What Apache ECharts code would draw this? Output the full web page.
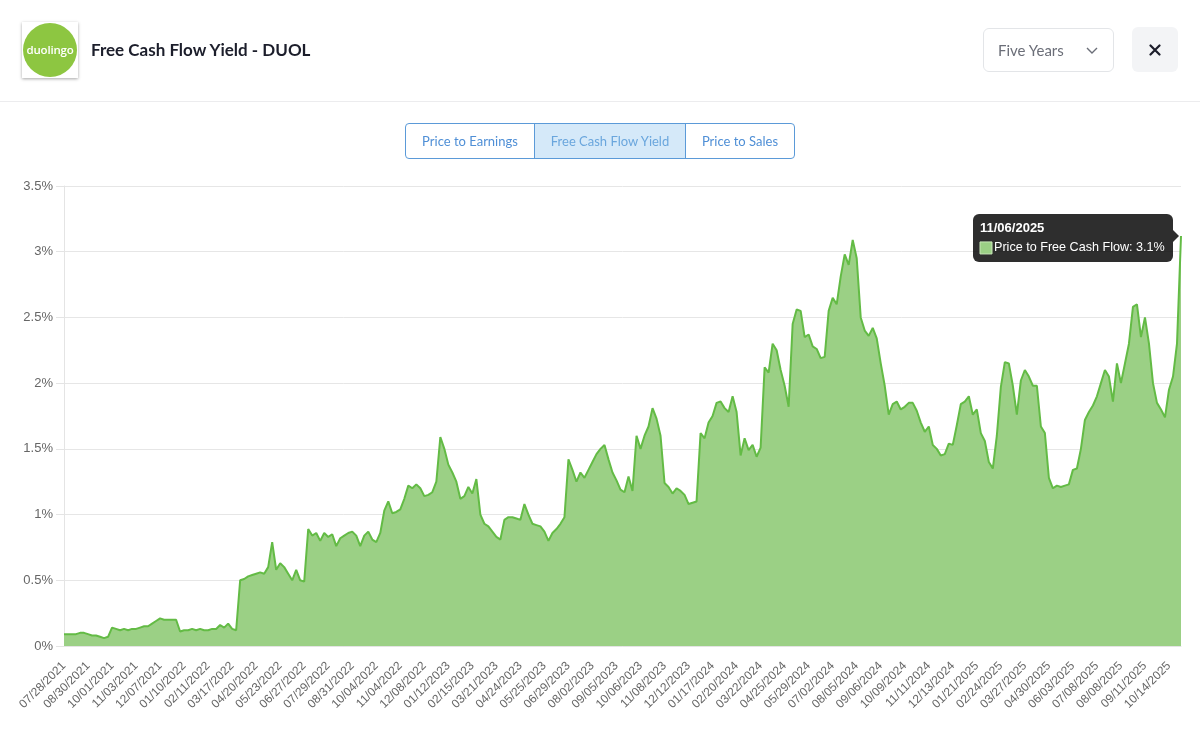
<!DOCTYPE html>
<html>
<head>
<meta charset="utf-8">
<script src="https://cdn.jsdelivr.net/npm/echarts@6/dist/echarts.min.js"></script>
<style>
  html, body { margin: 0; padding: 0; background: #fff; width: 1200px; height: 741px; overflow: hidden; font-family: Lato, "Noto Sans", sans-serif; }
  #logo { position: absolute; left: 22px; top: 22px; width: 56px; height: 56px; background: #fff; box-shadow: 0 1px 3px rgba(0,0,0,0.35); }
  #logo .c { position: absolute; left: 1px; top: 1px; width: 54px; height: 54px; border-radius: 50%; background: #8dc641; color: #fff; font-family: "Open Sans", Lato, sans-serif; font-weight: 600; font-size: 11.5px; line-height: 54px; text-align: center; letter-spacing: -0.2px; }
  #title { position: absolute; left: 91px; top: 39px; font-size: 17px; font-weight: 700; color: #1c1e2b; }
  #dd { position: absolute; left: 983px; top: 28px; width: 131px; height: 44px; border: 1px solid #e3e5e8; border-radius: 6px; box-sizing: border-box; }
  #dd span { position: absolute; left: 14px; top: 12px; font-size: 15px; color: #6b6e78; }
  #dd svg { position: absolute; left: 102px; top: 18px; }
  #close { position: absolute; left: 1132px; top: 27px; width: 46px; height: 45px; border-radius: 6px; background: #f3f4f6; }
  #close svg { position: absolute; left: 17px; top: 17px; }
  #hr { position: absolute; left: 0; top: 101px; width: 1200px; height: 1px; background: #ececee; }
  #tabs { position: absolute; left: 405px; top: 123px; width: 390px; height: 36px; border: 1px solid #5b9ad8; border-radius: 4px; box-sizing: border-box; display: flex; overflow: hidden; }
  #tabs div { height: 100%; box-sizing: border-box; font-size: 13px; color: #4f8fd6; text-align: center; line-height: 34px; }
  #tabs .t1 { width: 129px; border-right: 1px solid #5b9ad8; }
  #tabs .t2 { width: 151px; border-right: 1px solid #5b9ad8; background: #d5e9f9; color: #6aa6dd; }
  #tabs .t3 { flex: 1; }
  #chart { position: absolute; left: 0; top: 0; width: 1200px; height: 741px; }
</style>
</head>
<body>
<div id="chart"></div>
<div id="logo"><div class="c">duolingo</div></div>
<div id="title">Free Cash Flow Yield - DUOL</div>
<div id="dd"><span>Five Years</span><svg width="12" height="8" viewBox="0 0 12 8"><path d="M1 1 L6 6 L11 1" fill="none" stroke="#6b6e78" stroke-width="1.4"/></svg></div>
<div id="close"><svg width="12" height="12" viewBox="0 0 12 12"><path d="M1.5 1.5 L10.5 10.5 M10.5 1.5 L1.5 10.5" stroke="#1c1e2b" stroke-width="2.2" stroke-linecap="round"/></svg></div>
<div id="hr"></div>
<div id="tabs"><div class="t1">Price to Earnings</div><div class="t2">Free Cash Flow Yield</div><div class="t3">Price to Sales</div></div>
<script>
// Tick label dates shown on the x axis (one every 6 points)
const tickLabels = [
  "07/28/2021","08/30/2021","10/01/2021","11/03/2021","12/07/2021","01/10/2022","02/11/2022","03/17/2022",
  "04/20/2022","05/23/2022","06/27/2022","07/29/2022","08/31/2022","10/04/2022","11/04/2022","12/08/2022",
  "01/12/2023","02/15/2023","03/21/2023","04/24/2023","05/25/2023","06/29/2023","08/02/2023","09/05/2023",
  "10/06/2023","11/08/2023","12/12/2023","01/17/2024","02/20/2024","03/22/2024","04/25/2024","05/29/2024",
  "07/02/2024","08/05/2024","09/06/2024","10/09/2024","11/11/2024","12/13/2024","01/21/2025","02/24/2025",
  "03/27/2025","04/30/2025","06/03/2025","07/08/2025","08/08/2025","09/11/2025","10/14/2025"
];
const lastDate = "11/06/2025";
const seriesName = "Price to Free Cash Flow";
const yTicks = [0, 0.5, 1, 1.5, 2, 2.5, 3, 3.5];

// Free cash flow yield (%)
const fcfYield = [
  0.09,0.09,0.09,0.09,0.10,0.10, 0.09,0.08,0.08,0.07,0.06,0.07,
  0.14,0.13,0.12,0.13,0.12,0.13, 0.13,0.14,0.15,0.15,0.17,0.19,
  0.21,0.20,0.20,0.20,0.20,0.11, 0.12,0.12,0.13,0.12,0.13,0.12,
  0.12,0.13,0.13,0.16,0.14,0.17, 0.13,0.12,0.50,0.51,0.53,0.54,
  0.55,0.56,0.55,0.60,0.79,0.58, 0.63,0.60,0.55,0.50,0.58,0.50,
  0.49,0.89,0.84,0.86,0.80,0.86, 0.83,0.85,0.76,0.82,0.84,0.86,
  0.87,0.84,0.76,0.84,0.87,0.81, 0.79,0.86,1.03,1.10,1.01,1.02,
  1.04,1.12,1.22,1.20,1.23,1.20, 1.14,1.15,1.17,1.25,1.59,1.50,
  1.38,1.32,1.25,1.12,1.14,1.21, 1.16,1.27,1.00,0.93,0.91,0.87,
  0.83,0.81,0.96,0.98,0.98,0.97, 0.96,1.08,1.00,0.93,0.92,0.91,
  0.87,0.80,0.86,0.89,0.93,0.98, 1.42,1.34,1.25,1.32,1.28,1.34,
  1.40,1.46,1.50,1.53,1.42,1.32, 1.26,1.19,1.17,1.29,1.18,1.60,
  1.50,1.60,1.67,1.81,1.73,1.60, 1.24,1.21,1.16,1.20,1.18,1.15,
  1.08,1.09,1.10,1.62,1.58,1.70, 1.75,1.85,1.86,1.81,1.78,1.90,
  1.78,1.45,1.58,1.49,1.53,1.44, 1.51,2.12,2.08,2.30,2.25,2.10,
  1.98,1.82,2.45,2.56,2.55,2.35, 2.37,2.28,2.26,2.19,2.20,2.55,
  2.65,2.60,2.81,2.98,2.90,3.09, 2.95,2.50,2.40,2.36,2.42,2.34,
  2.15,1.98,1.76,1.84,1.86,1.80, 1.82,1.85,1.85,1.79,1.70,1.63,
  1.67,1.53,1.50,1.45,1.46,1.54, 1.53,1.68,1.84,1.86,1.90,1.76,
  1.80,1.62,1.56,1.40,1.35,1.60, 1.97,2.16,2.15,1.98,1.76,2.02,
  2.10,2.05,1.98,1.98,1.67,1.62, 1.28,1.20,1.22,1.21,1.22,1.23,
  1.34,1.35,1.50,1.72,1.78,1.83, 1.90,2.00,2.10,2.05,1.86,2.15,
  2.00,2.15,2.30,2.58,2.60,2.35, 2.50,2.30,2.00,1.85,1.80,1.74,
  1.95,2.05,2.30,3.12
];

const STEP = 6;
const n = fcfYield.length;
const categories = fcfYield.map((v, i) => {
  if (i === n - 1) return lastDate;
  if (i % STEP === 0 && tickLabels[i / STEP]) return tickLabels[i / STEP];
  return tickLabels[Math.floor(i / STEP)] + " +" + (i % STEP);
});

const seriesData = fcfYield.map((v, i) => i === n - 1
  ? { value: v, symbol: 'circle', symbolSize: 7, itemStyle: { color: '#6cc04a', borderColor: '#6cc04a' } }
  : v);

const chart = echarts.init(document.getElementById('chart'), null, { renderer: 'canvas' });
const labelFont = '"Liberation Sans", Arial, Helvetica, sans-serif';
chart.setOption({
  animation: false,
  grid: { left: 64, right: 19, top: 186, bottom: 95, containLabel: false },
  xAxis: {
    type: 'category',
    data: categories,
    boundaryGap: false,
    axisLine: { show: true, lineStyle: { color: '#e4e4e4' } },
    axisTick: { show: false },
    splitLine: { show: false },
    axisLabel: {
      interval: (idx) => idx % STEP === 0 && idx / STEP < tickLabels.length,
      rotate: 45,
      margin: 18,
      color: '#666',
      fontSize: 12,
      fontFamily: labelFont
    }
  },
  yAxis: {
    type: 'value',
    min: 0, max: 3.5, interval: 0.5,
    axisLine: { show: true, lineStyle: { color: '#e4e4e4' } },
    axisTick: { show: true, length: 8, lineStyle: { color: '#e4e4e4' } },
    splitLine: { show: true, lineStyle: { color: '#e6e6e6' } },
    axisLabel: {
      margin: 11,
      color: '#666',
      fontSize: 13,
      fontFamily: labelFont,
      formatter: (v) => yTicks.indexOf(v) >= 0 ? (v + '%') : ''
    }
  },
  series: [{
    name: seriesName,
    type: 'line',
    data: seriesData,
    showSymbol: true,
    symbol: 'none',
    lineStyle: { color: '#63bb45', width: 2 },
    itemStyle: { color: '#63bb45' },
    areaStyle: { color: '#9bd085', opacity: 1 },
    z: 2
  }]
});

// Static tooltip for the last point (Chart.js-like look)
const lastIdx = n - 1;
const pt = chart.convertToPixel({ gridIndex: 0 }, [lastIdx, fcfYield[lastIdx]]);
const boxW = 200, boxH = 48, caret = 6;
const bx = pt[0] - caret - boxW - 2, by = pt[1] - boxH / 2 + 2;
chart.setOption({
  graphic: [{
    type: 'group', z: 100,
    children: [
      { type: 'rect', shape: { x: bx, y: by, width: boxW, height: boxH, r: 6 }, style: { fill: 'rgba(0,0,0,0.82)' } },
      { type: 'polygon', shape: { points: [[bx + boxW, pt[1] - caret], [bx + boxW + caret, pt[1]], [bx + boxW, pt[1] + caret]] }, style: { fill: 'rgba(0,0,0,0.82)' } },
      { type: 'text', x: bx + 7, y: by + 14, style: { text: lastDate, fill: '#fff', font: 'bold 13px ' + labelFont, verticalAlign: 'middle' } },
      { type: 'rect', shape: { x: bx + 7, y: by + 28, width: 12, height: 12 }, style: { fill: '#9bd085', stroke: '#c8e8b8', lineWidth: 1 } },
      { type: 'text', x: bx + 21, y: by + 34, style: { text: seriesName + ': ' + fcfYield[lastIdx].toFixed(1) + '%', fill: '#fff', font: '12.6px ' + labelFont, verticalAlign: 'middle' } }
    ]
  }]
});
</script>
</body>
</html>
